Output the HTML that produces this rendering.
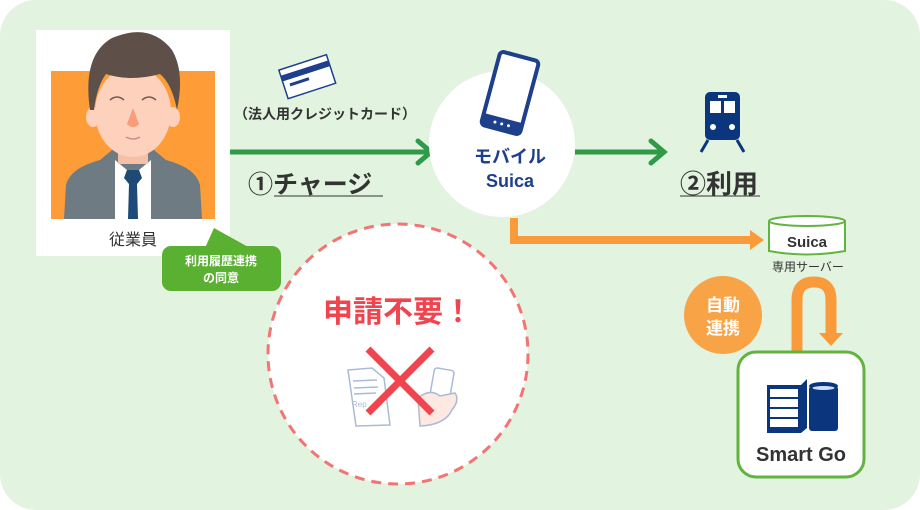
<!DOCTYPE html>
<html><head><meta charset="utf-8"><style>
body{margin:0;background:#fff;}
svg{display:block;font-family:"Liberation Sans","Noto Sans CJK JP",sans-serif;}
</style></head><body>
<svg width="920" height="510" viewBox="0 0 920 510">
<rect x="0" y="0" width="920" height="510" rx="36" fill="#e2f3df"/>
<!-- employee -->
<rect x="36" y="30" width="194" height="226" fill="#fff"/>
<rect x="51" y="71" width="164" height="148" fill="#fe9c37"/>
<path d="M64 219 L66 185 Q70 168 100 160 L112 150 L154 150 L166 160 Q196 168 200 185 L202 219 Z" fill="#6e7b83"/>
<path d="M115 160 L133 175 L151 160 L151 219 L115 219 Z" fill="#fff"/>
<path d="M127 170 L139 170 L142 178 L137 184 L138 219 L128 219 L129 184 L124 178 Z" fill="#1e4a77"/>
<rect x="118" y="138" width="30" height="26" fill="#f6c0a6"/>
<ellipse cx="133" cy="112" rx="38" ry="45" fill="#fdd1bc"/>
<ellipse cx="93" cy="117" rx="7" ry="10" fill="#fdd1bc"/>
<ellipse cx="173" cy="117" rx="7" ry="10" fill="#fdd1bc"/>
<path d="M90 110 Q82 55 112 38 Q150 22 172 50 Q185 72 177 110 Q172 84 160 74 Q130 82 106 74 Q97 86 94 110 Z" fill="#5e5048"/>
<path d="M110 100 Q117 94 124 100 M142 100 Q149 94 156 100" stroke="#6b5a50" stroke-width="1.5" fill="none"/>
<path d="M133 108 L127 124 Q133 130 139 124 Z" fill="#f99c79"/>
<path d="M126 137 Q133 141 140 137" stroke="#c88" stroke-width="1.3" fill="none"/>
<text x="133" y="245" font-size="16" text-anchor="middle" fill="#333">従業員</text>
<!-- bubble -->
<path d="M214 228 L250 248 L205 248 Z" fill="#5ab031"/>
<rect x="162" y="246" width="119" height="45" rx="9" fill="#5ab031"/>
<text x="221" y="265" font-size="12" font-weight="bold" text-anchor="middle" fill="#fff">利用履歴連携</text>
<text x="221" y="282" font-size="12" font-weight="bold" text-anchor="middle" fill="#fff">の同意</text>
<!-- card -->
<g transform="rotate(-18 306 76)"><rect x="282" y="62" width="50" height="30" fill="#fff" stroke="#1d3f8c" stroke-width="1.5"/><rect x="282" y="68" width="50" height="6" fill="#1d3f8c"/><rect x="288" y="78" width="20" height="3" fill="#1d3f8c"/></g>
<text x="325" y="119" font-size="14" font-weight="bold" text-anchor="middle" fill="#333">（法人用クレジットカード）</text>
<!-- green arrows -->
<line x1="230" y1="152" x2="428" y2="152" stroke="#2f9b48" stroke-width="5"/>
<path d="M418 141 L431 152 L418 163" stroke="#2f9b48" stroke-width="5" fill="none" stroke-linecap="round"/>
<line x1="575" y1="152" x2="661" y2="152" stroke="#2f9b48" stroke-width="5"/>
<path d="M651 141 L664 152 L651 163" stroke="#2f9b48" stroke-width="5" fill="none" stroke-linecap="round"/>
<text x="248" y="193" font-size="25" font-weight="bold" fill="#333">①チャージ</text>
<line x1="274" y1="196" x2="383" y2="196" stroke="#333" stroke-width="1"/>
<text x="680" y="193" font-size="26" font-weight="bold" fill="#333">②利用</text>
<line x1="680" y1="196" x2="760" y2="196" stroke="#333" stroke-width="1"/>
<!-- orange connector -->
<path d="M514 218 L514 240 L752 240" stroke="#f99b3b" stroke-width="8" fill="none"/>
<path d="M750 230 L764 240 L750 250 Z" fill="#f99b3b"/>
<!-- suica circle -->
<circle cx="502" cy="144" r="73" fill="#fff"/>
<g transform="rotate(15 510 93)"><rect x="490" y="55" width="40" height="76" rx="4" fill="#fff" stroke="#1d3f8c" stroke-width="4"/><rect x="490" y="119" width="40" height="12" fill="#1d3f8c"/><circle cx="503" cy="125" r="1.5" fill="#fff"/><circle cx="510" cy="125" r="1.5" fill="#fff"/><circle cx="517" cy="125" r="1.5" fill="#fff"/></g>
<text x="510" y="163" font-size="18" font-weight="bold" text-anchor="middle" fill="#1d3f8c">モバイル</text>
<text x="510" y="187" font-size="18" font-weight="bold" text-anchor="middle" fill="#1d3f8c">Suica</text>
<!-- train -->
<rect x="705" y="92" width="35" height="48" rx="5" fill="#0b367e"/>
<rect x="718" y="95" width="9" height="3" fill="#fff"/>
<rect x="710" y="101" width="11" height="12" fill="#fff"/><rect x="724" y="101" width="11" height="12" fill="#fff"/>
<circle cx="713" cy="127" r="3" fill="#fff"/><circle cx="732" cy="127" r="3" fill="#fff"/>
<path d="M708 140 L701 152 M737 140 L744 152" stroke="#0b367e" stroke-width="3"/>
<!-- server cylinder -->
<path d="M769 221 L769 251 Q806 258 845 251 L845 221" fill="#fff" stroke="#62b33f" stroke-width="2"/>
<ellipse cx="807" cy="221" rx="38" ry="5" fill="#fff" stroke="#62b33f" stroke-width="2"/>
<text x="807" y="247" font-size="15" font-weight="bold" text-anchor="middle" fill="#333">Suica</text>
<text x="808" y="271" font-size="12" text-anchor="middle" fill="#333">専用サーバー</text>
<!-- auto link -->
<circle cx="723" cy="315" r="39" fill="#f9a347"/>
<text x="723" y="311" font-size="17" font-weight="bold" text-anchor="middle" fill="#fff">自動</text>
<text x="723" y="334" font-size="17" font-weight="bold" text-anchor="middle" fill="#fff">連携</text>
<path d="M797 352 L797 300 Q797 282 814 282 Q831 282 831 300 L831 334" stroke="#f99b3b" stroke-width="11" fill="none"/>
<path d="M819 333 L843 333 L831 346 Z" fill="#f99b3b"/>
<!-- Smart Go -->
<rect x="738" y="352" width="126" height="125" rx="18" fill="#fff" stroke="#62b33f" stroke-width="3"/>
<path d="M767 385 L801 385 L807 379 L807 428 L801 433 L767 433 Z" fill="#0b367e"/>
<rect x="770" y="389" width="28" height="8" fill="#fff"/><rect x="770" y="399" width="28" height="8" fill="#fff"/><rect x="770" y="409" width="28" height="8" fill="#fff"/><rect x="770" y="419" width="28" height="8" fill="#fff"/>
<rect x="809" y="386" width="29" height="45" rx="3" fill="#0b367e"/>
<ellipse cx="823.5" cy="386" rx="14.5" ry="4" fill="#0b367e"/>
<ellipse cx="823.5" cy="388" rx="11" ry="2" fill="#cfe0f5"/>
<text x="801" y="461" font-size="20" font-weight="bold" text-anchor="middle" fill="#333">Smart Go</text>
<!-- dashed circle -->
<circle cx="398" cy="354" r="130" fill="#fff" stroke="#f47474" stroke-width="3" stroke-dasharray="10 7"/>
<text x="398" y="322" font-size="30" font-weight="bold" text-anchor="middle" fill="#f0454f">申請不要！</text>
<path d="M348 370 L372 368 L384 378 L390 425 L356 426 Z" fill="#fff" stroke="#aabbd6" stroke-width="1.5"/>
<path d="M353 381 L377 380 M354 388 L378 387 M354 394 L376 393" stroke="#aabbd6" stroke-width="1.5"/>
<text x="352" y="407" font-size="8" fill="#aabbd6">Rep</text>
<rect x="432" y="369" width="20" height="30" rx="3" fill="#fff" stroke="#aabbd6" stroke-width="1.5" transform="rotate(10 442 384)"/>
<path d="M418 398 Q430 388 440 396 L455 393 Q460 400 452 410 Q445 425 420 426 Z" fill="#fde8e2" stroke="#aabbd6" stroke-width="1.5"/>
<path d="M368 349 L432 413 M432 349 L368 413" stroke="#f0454f" stroke-width="7"/>
</svg>
</body></html>
